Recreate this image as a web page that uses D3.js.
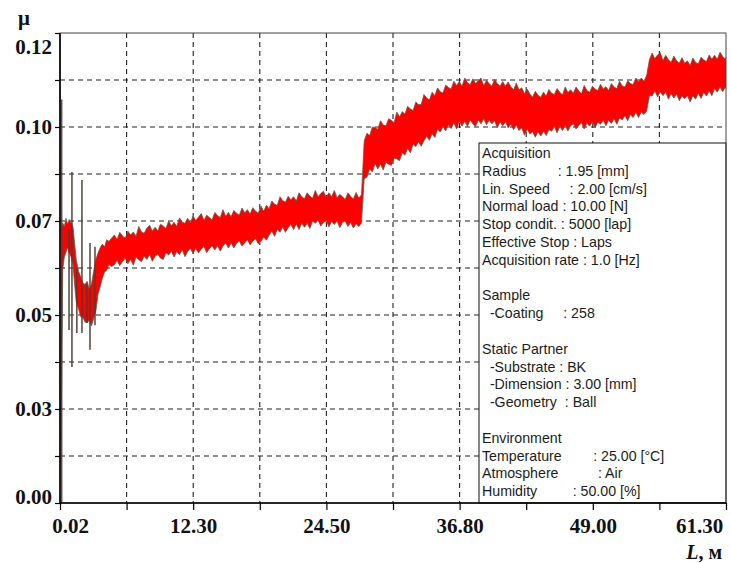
<!DOCTYPE html>
<html><head><meta charset="utf-8">
<script src="https://cdn.jsdelivr.net/npm/d3@7"></script>
<style>body{margin:0;background:#fff}</style>
</head><body>
<svg id="c" width="731" height="563"></svg>
<script>
// ---------- data (sliding distance in m, friction coefficient band) ----------
const distance = [0.1,0.25,0.4,0.55,0.7,0.85,1.0,1.2,1.35,1.5,1.7,1.9,2.1,2.3,2.5,2.7,2.9,3.1,3.3,3.5,3.7,3.9,4.1,4.3,4.5,4.75,
 5,5.25,5.5,5.75,6,6.25,6.5,6.75,7,7.25,7.5,7.75,8,8.25,8.5,8.75,9,9.25,9.5,9.75,10,10.25,10.5,10.75,11,11.25,11.5,11.75,12,12.25,
 12.5,12.75,13,13.25,13.5,13.75,14,14.25,14.5,14.75,15,15.25,15.5,15.75,16,16.25,16.5,16.75,17,17.25,
 17.5,17.75,18,18.25,18.5,
 18.75,19,19.25,19.5,19.75,20,20.25,20.5,20.75,21,21.25,21.5,21.75,22,
 22.25,22.5,22.75,23,23.25,23.5,23.75,24,24.25,24.5,24.75,25,25.25,25.5,25.75,26,26.25,26.5,26.75,27,27.25,27.5,27.75,
 28,28.25,28.5,28.75,29,29.25,29.5,29.75,30,30.25,30.5,30.75,31,31.25,31.5,31.75,32,32.25,32.5,32.75,33,33.25,33.5,33.75,34,34.25,34.5,34.75,35,35.25,35.5,35.75,36,36.25,36.5,36.75,
 37,37.25,37.5,37.75,38,38.25,38.5,38.75,39,39.25,39.5,39.75,40,40.25,40.5,40.75,41,41.25,41.5,41.75,42,42.25,42.5,42.75,43,43.25,43.5,43.75,44,44.25,44.5,
 44.75,45,45.25,45.5,45.75,46,46.25,46.5,46.75,47,47.25,47.5,47.75,48,48.25,48.5,48.75,49,49.25,49.5,49.75,50,50.25,50.5,50.75,51,51.25,51.5,51.75,52,52.25,52.5,52.75,53,53.25,53.5,53.75,54,
 54.25,54.5,54.75,55,55.25,55.5,55.75,56,56.25,56.5,56.75,57,57.25,57.5,57.75,58,58.25,58.5,58.75,59,59.25,59.5,59.75,60,60.25,60.5,60.75,61,61.25,61.3];
const muHigh = [0.0700,0.0715,0.0706,0.0727,0.0712,0.0724,0.0716,0.0704,0.0662,0.0620,0.0592,0.0578,0.0562,0.0558,0.0566,0.0545,0.0560,0.0592,0.0622,0.0638,0.0652,0.0661,0.0654,0.0672,0.0668,0.0676,
 0.0684,0.0673,0.0691,0.0682,0.0676,0.0694,0.0684,0.0692,0.0681,0.0706,0.0692,0.0689,0.0702,0.0709,0.0694,0.0704,0.0695,0.0712,0.0707,0.0701,0.0720,0.0708,0.0717,0.0706,0.0728,0.0717,0.0714,0.0727,0.0715,0.0733,
 0.0721,0.0730,0.0739,0.0722,0.0735,0.0729,0.0723,0.0742,0.0734,0.0729,0.0749,0.0732,0.0742,0.0731,0.0747,0.0740,0.0735,0.0753,0.0741,0.0749,
 0.0738,0.0754,0.0745,0.0740,0.0758,
 0.0745,0.0760,0.0751,0.0771,0.0763,0.0760,0.0782,0.0772,0.0768,0.0783,0.0774,0.0782,0.0771,0.0792,
 0.0782,0.0777,0.0792,0.0783,0.0778,0.0798,0.0782,0.0790,0.0796,0.0780,0.0792,0.0782,0.0798,0.0779,0.0788,0.0782,0.0775,0.0792,0.0783,0.0776,0.0793,0.0779,0.0787,
 0.0925,0.0944,0.0938,0.0960,0.0959,0.0954,0.0976,0.0965,0.0963,0.0981,0.0977,0.0971,0.0998,0.0986,0.0999,0.0993,0.1013,0.1006,0.1002,0.1024,0.1017,0.1018,0.1043,0.1034,0.1029,0.1049,0.1040,0.1060,0.1050,0.1047,0.1067,0.1061,0.1057,0.1077,0.1066,0.1076,
 0.1064,0.1085,0.1073,0.1068,0.1083,0.1071,0.1078,0.1085,0.1066,0.1079,0.1071,0.1064,0.1082,0.1071,0.1064,0.1076,0.1064,0.1075,0.1063,0.1055,0.1072,0.1055,0.1060,0.1045,0.1057,0.1044,0.1036,0.1051,0.1041,0.1036,0.1049,
 0.1039,0.1056,0.1046,0.1043,0.1058,0.1049,0.1042,0.1062,0.1048,0.1055,0.1046,0.1062,0.1052,0.1045,0.1066,0.1053,0.1049,0.1064,0.1057,0.1053,0.1069,0.1057,0.1063,0.1053,0.1071,0.1062,0.1058,0.1077,0.1065,0.1062,0.1078,0.1071,0.1068,0.1085,0.1075,0.1085,0.1077,0.1092,
 0.1132,0.1149,0.1134,0.1144,0.1150,0.1130,0.1143,0.1132,0.1125,0.1141,0.1129,0.1123,0.1137,0.1123,0.1129,0.1117,0.1136,0.1125,0.1121,0.1138,0.1132,0.1127,0.1144,0.1133,0.1143,0.1133,0.1151,0.1140,0.1133,0.1138];
const muLow = [0.0160,0.0596,0.0628,0.0640,0.0652,0.0638,0.0630,0.0608,0.0556,0.0512,0.0496,0.0476,0.0474,0.0462,0.0460,0.0467,0.0452,0.0472,0.0490,0.0533,0.0552,0.0574,0.0590,0.0594,0.0608,0.0604,
 0.0608,0.0619,0.0606,0.0616,0.0625,0.0611,0.0622,0.0607,0.0628,0.0621,0.0616,0.0630,0.0622,0.0634,0.0617,0.0630,0.0635,0.0625,0.0622,0.0639,0.0633,0.0643,0.0628,0.0642,0.0634,0.0646,0.0629,0.0642,0.0650,0.0637,
 0.0650,0.0638,0.0648,0.0655,0.0639,0.0649,0.0657,0.0646,0.0657,0.0643,0.0656,0.0664,0.0651,0.0664,0.0651,0.0663,0.0669,0.0656,0.0664,0.0672,
 0.0659,0.0669,0.0675,0.0662,0.0668,
 0.0679,0.0671,0.0684,0.0694,0.0681,0.0698,0.0691,0.0705,0.0691,0.0703,0.0711,0.0698,0.0712,0.0698,
 0.0714,0.0704,0.0714,0.0701,0.0720,0.0714,0.0722,0.0707,0.0716,0.0721,0.0705,0.0719,0.0711,0.0720,0.0703,0.0716,0.0720,0.0706,0.0716,0.0702,0.0713,0.0706,0.0715,
 0.0828,0.0832,0.0853,0.0845,0.0866,0.0853,0.0865,0.0850,0.0870,0.0865,0.0862,0.0880,0.0879,0.0874,0.0894,0.0888,0.0905,0.0894,0.0916,0.0910,0.0922,0.0911,0.0925,0.0936,0.0926,0.0943,0.0933,0.0954,0.0947,0.0961,0.0950,0.0966,0.0956,0.0971,0.0955,0.0974,
 0.0962,0.0975,0.0961,0.0978,0.0968,0.0961,0.0978,0.0968,0.0981,0.0966,0.0977,0.0968,0.0976,0.0958,0.0973,0.0963,0.0973,0.0958,0.0967,0.0953,0.0965,0.0951,0.0958,0.0939,0.0954,0.0942,0.0948,0.0934,0.0948,0.0937,0.0949,
 0.0938,0.0953,0.0949,0.0961,0.0945,0.0961,0.0951,0.0964,0.0950,0.0963,0.0968,0.0955,0.0964,0.0971,0.0955,0.0970,0.0962,0.0973,0.0958,0.0972,0.0967,0.0977,0.0963,0.0977,0.0969,0.0981,0.0967,0.0983,0.0978,0.0989,0.0976,0.0992,0.0984,0.0997,0.0984,0.0998,0.0992,0.1001,
 0.1040,0.1039,0.1052,0.1037,0.1050,0.1040,0.1049,0.1031,0.1045,0.1034,0.1044,0.1027,0.1039,0.1032,0.1040,0.1024,0.1040,0.1031,0.1046,0.1033,0.1048,0.1039,0.1052,0.1040,0.1058,0.1049,0.1062,0.1050,0.1063,0.1058];
// transient spikes at the start of the run
const spikeDist   = [0.15, 0.83, 1.10, 1.55, 2.02, 2.48, 2.76, 3.22];
const spikeTop    = [0.1030,0.0700,0.0845,0.0600,0.0825,0.0560,0.0664,0.0654];
const spikeBottom = [0.0000,0.0442,0.0347,0.0434,0.0434,0.0460,0.0391,0.0454];

const xGrid = [0,6.13,12.26,18.39,24.52,30.65,36.78,42.91,49.04,55.17,61.3];
const yGrid = [0,0.012,0.024,0.036,0.048,0.06,0.072,0.084,0.096,0.108,0.12];
const xTickLabels = ["0.02","12.30","24.50","36.80","49.00","61.30"];
const yTickLabels = ["0.00","0.03","0.05","0.07","0.10","0.12"];
const yTitle = "μ";
const legendLines = [
 "Acquisition",
 "Radius        : 1.95 [mm]",
 "Lin. Speed     : 2.00 [cm/s]",
 "Normal load : 10.00 [N]",
 "Stop condit. : 5000 [lap]",
 "Effective Stop : Laps",
 "Acquisition rate : 1.0 [Hz]",
 "",
 "Sample",
 "  -Coating     : 258",
 "",
 "Static Partner",
 "  -Substrate : BK",
 "  -Dimension : 3.00 [mm]",
 "  -Geometry  : Ball",
 "",
 "Environment",
 "Temperature        : 25.00 [°C]",
 "Atmosphere          : Air",
 "Humidity         : 50.00 [%]"
];

// ---------- layout ----------
const m = {left:60, right:726, top:33, bottom:503};
const svg = d3.select("#c");
const x = d3.scaleLinear().domain([0, 61.3]).range([m.left, m.right]);
const y = d3.scaleLinear().domain([0, 0.12]).range([m.bottom, m.top]);
const serif = "'Liberation Serif','Times New Roman',serif";

// grid
const grid = svg.append("g").attr("stroke","#222").attr("stroke-width",1.1).attr("stroke-dasharray","5,4");
grid.selectAll(".gx").data(xGrid.slice(1,-1)).join("line")
  .attr("x1",d=>x(d)).attr("x2",d=>x(d)).attr("y1",m.top).attr("y2",m.bottom);
grid.selectAll(".gy").data(yGrid.slice(1,-1)).join("line")
  .attr("y1",d=>y(d)).attr("y2",d=>y(d)).attr("x1",m.left).attr("x2",m.right);

// friction band
const n = Math.min(distance.length, muHigh.length, muLow.length);
const pts = distance.slice(0,n).map((d,i)=>({d, hi:muHigh[i], lo:muLow[i]}));
svg.append("path").datum(pts)
  .attr("fill","#ff0000")
  .attr("d", d3.area().x(p=>x(p.d)).y0(p=>y(p.lo)).y1(p=>y(p.hi)));
const edge = svg.append("g").attr("fill","none").attr("stroke","#6a5644").attr("stroke-opacity",0.75).attr("stroke-width",1);
edge.append("path").datum(pts).attr("d", d3.line().x(p=>x(p.d)).y(p=>y(p.hi)));
edge.append("path").datum(pts).attr("d", d3.line().x(p=>x(p.d)).y(p=>y(p.lo)));

// spikes
svg.append("g").selectAll("line").data(spikeDist).join("line")
  .attr("x1",d=>x(d)).attr("x2",d=>x(d))
  .attr("y1",(d,i)=>y(spikeTop[i])).attr("y2",(d,i)=>y(spikeBottom[i]))
  .attr("stroke","#4e3c32").attr("stroke-width",1.6).attr("stroke-opacity",0.9);

// legend box
const lx = 479, ly = 143;
svg.append("rect").attr("x",lx).attr("y",ly).attr("width",m.right-lx).attr("height",m.bottom-ly)
  .attr("fill","#fff").attr("stroke","#111").attr("stroke-width",1);
svg.append("g").selectAll("text").data(legendLines).join("text")
  .attr("x",lx+3).attr("y",(d,i)=>158+i*17.8)
  .attr("font-family","'Liberation Sans',Arial,sans-serif").attr("font-size",14.2)
  .attr("fill","#1c1c1c").style("white-space","pre").attr("xml:space","preserve")
  .text(d=>d);

// frame
svg.append("rect").attr("x",m.left).attr("y",m.top).attr("width",m.right-m.left).attr("height",m.bottom-m.top)
  .attr("fill","none").attr("stroke","#444").attr("stroke-width",1);
svg.append("line").attr("x1",m.left).attr("x2",m.left).attr("y1",m.top).attr("y2",m.bottom).attr("stroke","#000").attr("stroke-width",1.6);
svg.append("line").attr("x1",m.left).attr("x2",m.right).attr("y1",m.bottom).attr("y2",m.bottom).attr("stroke","#000").attr("stroke-width",1.6);

// axes
const gx = svg.append("g").attr("transform",`translate(0,${m.bottom})`)
  .call(d3.axisBottom(x).tickValues(xGrid).tickSize(7).tickSizeOuter(0)
        .tickFormat((d,i)=> i%2===0 ? xTickLabels[i/2] : ""));
gx.select(".domain").remove();
gx.selectAll("line").attr("stroke","#000").attr("stroke-width",1.2);
gx.selectAll("text").attr("font-family",serif).attr("font-weight","bold").attr("font-size",21).attr("fill","#111")
  .attr("y",15).attr("x",d=>Math.max(70,Math.min(699,x(d)))-x(d));

const gy = svg.append("g").attr("transform",`translate(${m.left},0)`)
  .call(d3.axisLeft(y).tickValues(yGrid).tickSize(5).tickSizeOuter(0)
        .tickFormat((d,i)=> i%2===0 ? yTickLabels[i/2] : ""));
gy.select(".domain").remove();
gy.selectAll("line").attr("stroke","#000").attr("stroke-width",1.2);
gy.selectAll("text").attr("font-family",serif).attr("font-weight","bold").attr("font-size",21).attr("fill","#111")
  .attr("x",-8).attr("y",d=>Math.max(47,Math.min(497,y(d)))-y(d));

// titles
svg.append("text").attr("x",18).attr("y",25).attr("font-family",serif).attr("font-weight","bold")
  .attr("font-size",21).attr("fill","#111").text(yTitle);
const xt = svg.append("text").attr("x",722).attr("y",559).attr("text-anchor","end")
  .attr("font-family",serif).attr("font-weight","bold").attr("font-size",20).attr("fill","#111");
xt.append("tspan").attr("font-style","italic").text("L");
xt.append("tspan").text(", м");
</script>
</body></html>
